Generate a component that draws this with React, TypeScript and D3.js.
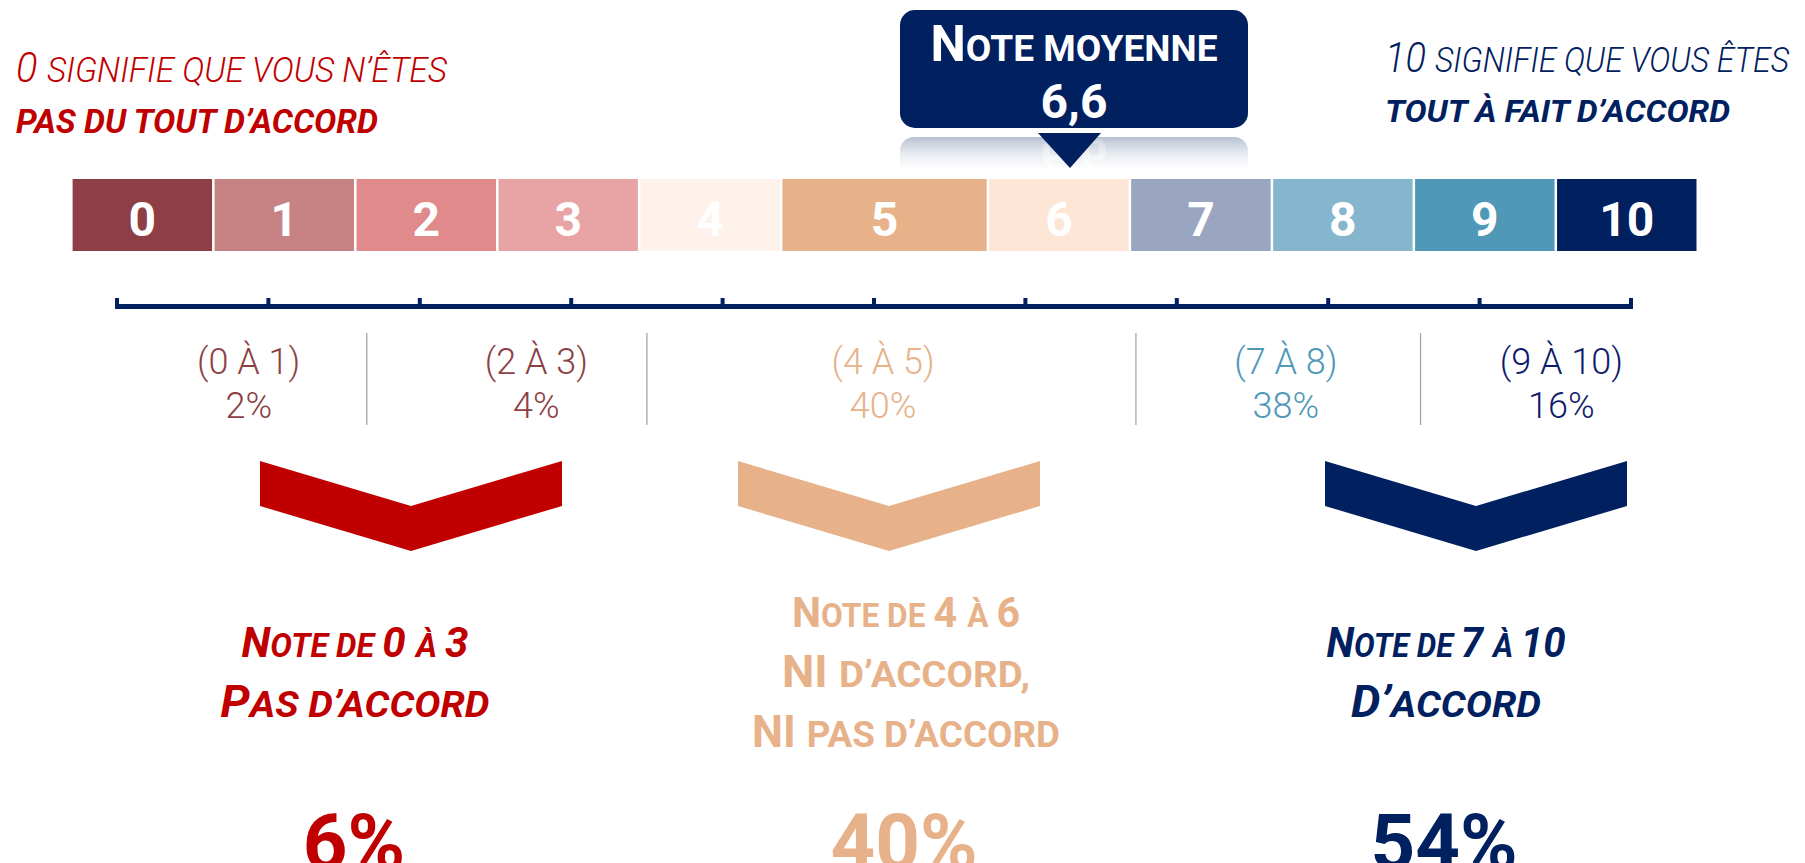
import React from 'react';
import * as d3 from 'd3';

// ---- data ----
const scores = ['0', '1', '2', '3', '4', '5', '6', '7', '8', '9', '10'];
const meanScore = '6,6';
const groupRanges = ['(0 À 1)', '(2 À 3)', '(4 À 5)', '(7 À 8)', '(9 À 10)'];
const groupShares = [2, 4, 40, 38, 16];
const summaryTitles = [
  ['Note de 0 à 3', 'Pas d’accord'],
  ['Note de 4 à 6', 'NI d’accord,', 'NI pas d’accord'],
  ['Note de 7 à 10', 'D’accord'],
];
const summaryShares = [6, 40, 54];
const leftNote = ['0 signifie que vous n’êtes', 'PAS DU TOUT D’ACCORD'];
const rightNote = ['10 signifie que vous êtes', 'TOUT À FAIT D’ACCORD'];

// ---- palette ----
const RED = '#C00000';
const NAVY = '#002060';
const PEACH = '#E7B28A';
const cellColors = ['#8E3F46', '#C78284', '#E08A8B', '#E8A4A4', '#FEF2EA', '#E7B28A',
  '#FEE6D7', '#9AA5BF', '#86B6CE', '#4F98B8', '#002060'];
const groupColors = ['#8E3F46', '#8E3F46', '#E7B28A', '#4F98B8', '#101A6B'];
const summaryColors = [RED, PEACH, NAVY];

const W = 1805;
const H = 863;
const FONT = "Roboto, 'Open Sans', sans-serif";

// cell 5 is drawn wider than the others
const cellWeights = scores.map(s => (s === '5' ? 1.457 : 1));
const cellEdges = [0, ...d3.cumsum(cellWeights)];
const cellX = d3.scaleLinear().domain([0, d3.sum(cellWeights)]).range([72.6, 1699]);
const axisX = d3.scaleLinear().domain([0, 10]).range([117, 1631]);

// label / separator positions in axis units
const groupAt = [0.87, 2.77, 5.06, 7.72, 9.54];
const dividerAt = [1.65, 3.5, 6.73, 8.61];
const summaryText = [355, 906, 1446];
const summaryWidths = [[227, 269], [228, 248, 308], [239, 190]];
const chevronAt = [411, 889, 1476];
const shareAt = [354, 904, 1444];

function capsRuns(text: string) {
  const runs: { t: string; small: boolean }[] = [];
  let prev = false;
  for (const ch of text) {
    let small = prev;
    if (/\p{Ll}/u.test(ch)) small = true;
    else if (/[\p{Lu}\p{N}]/u.test(ch)) small = false;
    prev = small;
    const last = runs[runs.length - 1];
    if (last && last.small === small) last.t += ch;
    else runs.push({ t: ch, small });
  }
  return runs;
}

const SmallCaps = ({ text, size, ratio }: { text: string; size: number; ratio: number }) => (
  <>
    {capsRuns(text).map((r, i) => (
      <tspan key={i} fontSize={r.small ? size * ratio : size}>
        {r.small ? r.t.toUpperCase() : r.t}
      </tspan>
    ))}
  </>
);

const chevron = (cx: number) => {
  const half = 151, top = 461, drop = 45, thick = 45;
  const pts: [number, number][] = [
    [cx - half, top], [cx, top + drop], [cx + half, top],
    [cx + half, top + thick], [cx, top + drop + thick], [cx - half, top + thick],
  ];
  return d3.line()(pts) + 'Z';
};

export default function App() {
  return (
    <svg width={W} height={H} style={{ position: 'absolute', left: 0, top: 0, background: '#fff' }}
      fontFamily={FONT}>
      <defs>
        <linearGradient id="refl" x1="0" y1="0" x2="0" y2="1">
          <stop offset="0" stopColor="#a9b4c9" stopOpacity={0.85} />
          <stop offset="1" stopColor="#ffffff" stopOpacity={0} />
        </linearGradient>
        <linearGradient id="reflText" x1="0" y1="0" x2="0" y2="1">
          <stop offset="0" stopColor="#ffffff" stopOpacity={0.8} />
          <stop offset="1" stopColor="#ffffff" stopOpacity={0} />
        </linearGradient>
        <clipPath id="reflClip">
          <rect x={900} y={137} width={348} height={31} />
        </clipPath>
      </defs>

      {/* corner notes */}
      <text x={16} y={82} fill={RED} fontStyle="italic" fontWeight={300} textLength={431}
        lengthAdjust="spacingAndGlyphs">
        <SmallCaps text={leftNote[0]} size={42} ratio={0.84} />
      </text>
      <text x={16} y={133} fill={RED} fontStyle="italic" fontWeight={700} fontSize={33}
        textLength={362} lengthAdjust="spacingAndGlyphs">{leftNote[1]}</text>
      <text x={1385} y={72} fill={NAVY} fontStyle="italic" fontWeight={300} textLength={404}
        lengthAdjust="spacingAndGlyphs">
        <SmallCaps text={rightNote[0]} size={42} ratio={0.84} />
      </text>
      <text x={1385} y={122} fill={NAVY} fontStyle="italic" fontWeight={700} fontSize={32}
        textLength={345} lengthAdjust="spacingAndGlyphs">{rightNote[1]}</text>

      {/* mean score callout + its reflection */}
      <g clipPath="url(#reflClip)">
        <rect x={900} y={137} width={348} height={40} rx={14} fill="url(#refl)" />
        <text x={1074} y={118} textAnchor="middle" fill="url(#reflText)" fontWeight={700}
          fontSize={48} transform="translate(0,256) scale(1,-1)">{meanScore}</text>
      </g>
      <rect x={900} y={10} width={348} height={118} rx={15} fill={NAVY} />
      <path d={d3.line()([[1038, 133], [1101, 133], [1070, 168]]) + 'Z'} fill={NAVY} />
      <text x={1074} y={61} textAnchor="middle" fill="#fff" fontWeight={700} textLength={287}
        lengthAdjust="spacingAndGlyphs">
        <SmallCaps text="Note moyenne" size={50} ratio={0.74} />
      </text>
      <text x={1074} y={118} textAnchor="middle" fill="#fff" fontWeight={700} fontSize={48}>
        {meanScore}
      </text>

      {/* score cells */}
      {scores.map((s, i) => {
        const x0 = cellX(cellEdges[i]);
        const x1 = cellX(cellEdges[i + 1]);
        return (
          <g key={s}>
            <rect x={x0} y={179} width={x1 - x0 - 2.5} height={72} fill={cellColors[i]} />
            <text x={(x0 + x1 - 2.5) / 2} y={236} textAnchor="middle" fill="#fff"
              fontWeight={700} fontSize={48}>{s}</text>
          </g>
        );
      })}

      {/* axis */}
      <line x1={axisX(0) - 2} x2={axisX(10) + 2} y1={306.5} y2={306.5} stroke={NAVY} strokeWidth={5} />
      {d3.range(11).map(v => (
        <line key={v} x1={axisX(v)} x2={axisX(v)} y1={298} y2={307} stroke={NAVY} strokeWidth={4} />
      ))}

      {/* group shares */}
      {dividerAt.map((v, i) => (
        <line key={i} x1={axisX(v)} x2={axisX(v)} y1={333} y2={425} stroke="#a6a6a6" strokeWidth={1.3} />
      ))}
      {groupRanges.map((g, i) => (
        <g key={g} fill={groupColors[i]} fontWeight={300} fontSize={36} textAnchor="middle">
          <text x={axisX(groupAt[i])} y={374}>{g}</text>
          <text x={axisX(groupAt[i])} y={418}>{groupShares[i]}%</text>
        </g>
      ))}

      {/* chevrons */}
      {chevronAt.map((cx, i) => (
        <path key={i} d={chevron(cx)} fill={summaryColors[i]} />
      ))}

      {/* summary */}
      {summaryTitles.map((lines, i) => {
        const base = lines.length === 3 ? 627 : 657;
        return (
          <g key={i} fill={summaryColors[i]} fontWeight={700} textAnchor="middle"
            fontStyle={i === 1 ? 'normal' : 'italic'}>
            {lines.map((l, j) => (
              <text key={j} x={summaryText[i]} y={base + j * 60} textLength={summaryWidths[i][j]}
                lengthAdjust="spacingAndGlyphs">
                <SmallCaps text={l} size={j === 0 ? 42 : 44} ratio={j === 0 ? 0.77 : 0.84} />
              </text>
            ))}
          </g>
        );
      })}
      {summaryShares.map((v, i) => (
        <text key={i} x={shareAt[i]} y={869} textAnchor="middle" fill={summaryColors[i]}
          fontWeight={700} fontSize={78}>{v}%</text>
      ))}
    </svg>
  );
}
